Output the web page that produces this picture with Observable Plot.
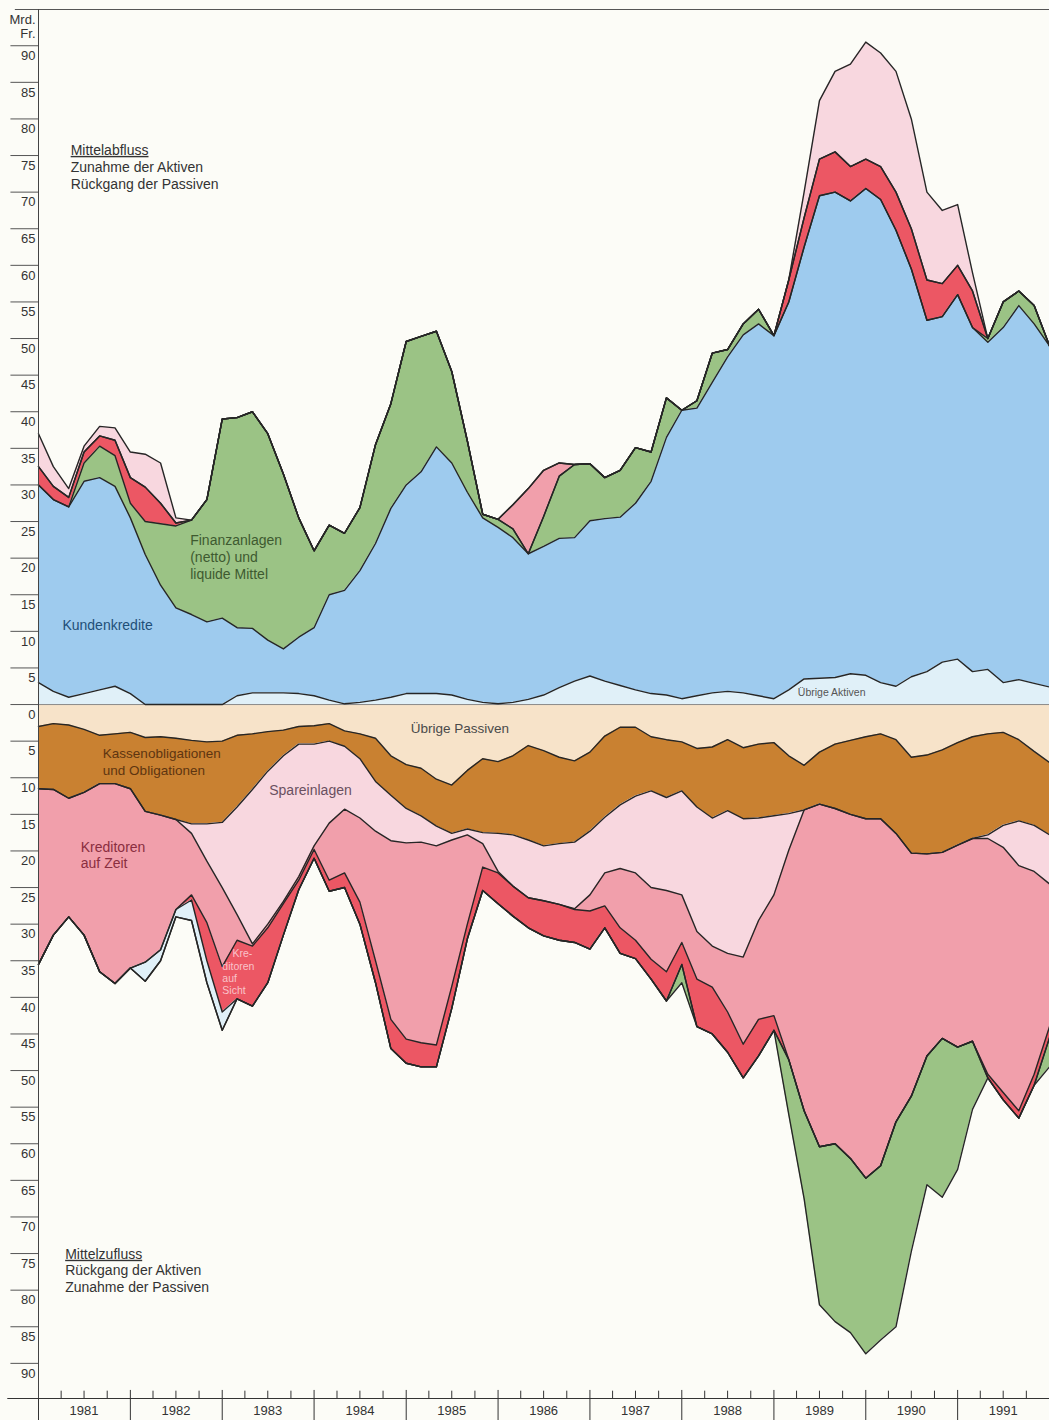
<!DOCTYPE html>
<html><head><meta charset="utf-8">
<script src="https://cdn.jsdelivr.net/npm/d3@7"></script>
<script src="https://cdn.jsdelivr.net/npm/@observablehq/plot@0.6"></script>
<style>
html,body{margin:0;padding:0;background:#fcfcf7;}
#chart{width:1049px;height:1420px;overflow:hidden;}
</style></head><body><div id="chart"></div>
<script>
// Zeitpunkte (zweimonatlich)
const dates = ["1981-01","1981-03","1981-05","1981-07","1981-09","1981-11",
"1982-01","1982-03","1982-05","1982-07","1982-09","1982-11",
"1983-01","1983-03","1983-05","1983-07","1983-09","1983-11",
"1984-01","1984-03","1984-05","1984-07","1984-09","1984-11",
"1985-01","1985-03","1985-05","1985-07","1985-09","1985-11",
"1986-01","1986-03","1986-05","1986-07","1986-09","1986-11",
"1987-01","1987-03","1987-05","1987-07","1987-09","1987-11",
"1988-01","1988-03","1988-05","1988-07","1988-09","1988-11",
"1989-01","1989-03","1989-05","1989-07","1989-09","1989-11",
"1990-01","1990-03","1990-05","1990-07","1990-09","1990-11",
"1991-01","1991-03","1991-05","1991-07","1991-09","1991-11","1992-01"];

// Mrd. Fr.; positiv = Mittelabfluss, negativ = Mittelzufluss
const uebrigeAktiven = [3.0,1.8,1.0,1.5,2.0,2.5,1.5,-2.6,-1.5,-1.0,-2.8,-3.0,-2.5,1.2,1.6,1.6,1.6,1.5,1.2,0.6,0.1,0.3,0.6,1.0,1.5,1.5,1.5,1.3,0.7,0.3,0.1,0.3,0.7,1.3,2.3,3.2,3.9,3.2,2.6,2.0,1.5,1.3,0.8,1.2,1.6,1.8,1.6,1.2,0.8,2.0,3.5,3.6,3.7,4.2,4.0,3.0,2.5,3.8,4.5,5.8,6.2,4.5,4.8,3.0,3.4,2.9,2.4];
const kundenkredite = [27.0,26.2,26.0,29.0,29.0,27.3,24.0,20.5,16.3,13.2,12.3,11.3,11.8,9.3,8.8,7.2,6.0,7.7,9.3,14.4,15.5,18.0,21.4,25.8,28.5,30.3,33.7,31.7,28.3,25.2,24.1,22.5,19.9,20.3,20.4,19.6,21.2,22.2,23.0,25.5,29.0,35.2,39.4,39.3,42.4,45.7,48.9,50.8,49.6,53.0,59.0,65.9,66.3,64.6,66.5,66.0,62.3,55.7,48.0,47.2,49.8,47.0,44.7,48.5,51.1,49.1,46.6];
const finanzanlagen = [0,0,0,2.5,4.3,4.2,2.0,4.5,8.4,11.2,12.9,16.7,27.2,28.7,29.6,28.2,23.9,16.3,10.5,9.5,7.8,8.6,13.5,14.3,19.6,18.5,15.8,12.5,7.0,0.5,1.1,1.2,0,4.1,8.5,10.0,7.8,5.6,6.4,7.6,4.0,5.4,-2.5,1.0,4.0,1.0,1.5,2.0,0,-7.5,-12.0,-21.6,-24.3,-23.8,-24.0,-23.8,-28.0,-21.2,-17.6,-21.7,-16.7,-9.3,0.5,3.5,2.0,2.5,-4.0];
const kreditorenSicht = [2.5,1.8,1.3,1.5,1.4,2.1,3.5,4.7,2.8,0.4,-0.7,-5.2,-6.2,-8.0,-8.2,-7.5,-4.3,-1.3,-1.2,-1.5,-2.0,-3.0,-3.0,-4.0,-3.3,-3.3,-3.0,-3.0,-2.0,-3.2,-4.2,-4.1,-4.1,-4.8,-4.9,-4.5,-5.2,-3.0,-3.5,-2.5,-2.7,-4.0,-3.0,-6.5,-6.4,-5.5,-4.6,-5.0,-2.0,3.0,4.0,5.0,5.5,4.7,4.0,4.5,5.2,5.5,5.5,4.5,4.0,5.0,-0.5,-1.0,-1.0,-1.5,-1.5];
const kreditorenZeit = [-24.0,-19.9,-16.2,-19.5,-25.7,-27.3,-24.5,-20.6,-18.4,-12.3,-8.4,-8.4,-10.8,-3.5,-0.3,-0.5,-0.3,-0.5,-0.5,-7.8,-8.7,-11.5,-17.7,-24.4,-26.8,-27.4,-27.2,-20.0,-12.2,-3.2,-0.2,3.3,8.9,6.3,1.8,-0.1,-2.2,-4.5,-8.1,-9.2,-9.8,-11.1,-6.5,-6.5,-5.6,-8.0,-11.9,-13.5,-16.5,-28.6,-41.1,-46.8,-45.8,-47.0,-49.1,-47.4,-39.4,-33.2,-27.6,-25.4,-27.6,-27.7,-32.2,-33.5,-33.5,-27.7,-19.5];
const spareinlagen = [4.5,2.7,1.2,0.8,1.3,1.7,3.5,4.5,5.5,0.7,-1.3,-5.1,-8.9,-14.7,-21.1,-20.9,-19.9,-18.1,-13.9,-11.2,-8.6,-8.1,-6.8,-6.2,-4.7,-3.6,-2.7,-0.9,-0.8,-1.5,-5.2,-7.0,-7.9,-7.5,-8.3,-9.1,-8.7,-7.6,-8.7,-10.5,-13.2,-12.7,-14.2,-17.0,-17.5,-19.5,-18.9,-14.0,-10.8,-5.0,3.5,8.0,11.0,14.0,16.0,15.5,16.5,15.0,12.0,10.0,8.3,2.5,-0.5,-3.0,-6.1,-6.3,-6.7];
const kassenobligationen = [-8.5,-9.0,-10.0,-8.6,-6.6,-6.8,-7.7,-10.1,-10.7,-11.1,-11.4,-11.2,-11.1,-9.8,-7.6,-5.4,-3.5,-2.4,-2.5,-2.4,-2.1,-3.4,-5.9,-5.4,-6.0,-6.5,-6.4,-6.6,-8.0,-10.1,-9.8,-10.8,-12.9,-13.0,-11.8,-11.1,-10.8,-11.1,-10.6,-9.4,-7.4,-7.9,-6.7,-8.0,-9.7,-9.7,-9.7,-10.1,-10.0,-7.9,-6.1,-7.1,-8.8,-10.1,-11.2,-11.6,-12.8,-13.1,-13.5,-14.0,-14.0,-13.9,-13.8,-12.7,-11.1,-10.1,-9.9];
const uebrigePassiven = [-3.0,-2.6,-2.8,-3.4,-4.2,-4.0,-3.8,-4.5,-4.4,-4.6,-4.9,-5.1,-5.0,-4.2,-4.0,-3.7,-3.5,-3.0,-2.9,-2.6,-3.6,-4.0,-4.6,-7.0,-8.2,-8.7,-10.2,-11.0,-9.0,-7.4,-7.8,-7.0,-5.6,-6.3,-7.2,-7.7,-6.5,-4.3,-3.1,-3.1,-4.4,-4.8,-5.1,-6.0,-5.8,-4.8,-5.9,-5.4,-5.2,-7.0,-8.3,-6.5,-5.4,-4.9,-4.4,-4.0,-4.8,-7.2,-6.9,-6.2,-5.2,-4.4,-4.0,-3.8,-4.8,-6.4,-7.9];

const years = [1981,1982,1983,1984,1985,1986,1987,1988,1989,1990,1991];
const yTicks = [-90,-85,-80,-75,-70,-65,-60,-55,-50,-45,-40,-35,-30,-25,-20,-15,-10,-5,0,5,10,15,20,25,30,35,40,45,50,55,60,65,70,75,80,85,90];

const series = {ua: uebrigeAktiven, kk: kundenkredite, fin: finanzanlagen, kas: kreditorenSicht,
  kaz: kreditorenZeit, spar: spareinlagen, kasse: kassenobligationen, up: uebrigePassiven};
const colors = {ua:"#e0f0f8", kk:"#9ecbee", fin:"#9bc385", kas:"#ec5764", kaz:"#f19fab",
  spar:"#f8d7df", kasse:"#c98131", up:"#f7e3c9"};
const topOrder = ["ua","kk","fin","kas","kaz","spar"];
const bottomOrder = ["up","kasse","spar","kaz","kas","ua","fin"];

const parse = d3.utcParse("%Y-%m");
const D = dates.map(parse);
const posRows = [], negRows = [];
for (const k of topOrder) series[k].forEach((v,i) => posRows.push({date: D[i], key: k, v: Math.max(v, 0)}));
for (const k of bottomOrder) series[k].forEach((v,i) => negRows.push({date: D[i], key: k, v: v < 0 ? v : -1e-6}));

const yr = f => new Date(Date.UTC(1981,0,1) + (f - 1981) * 365.25 * 864e5);
const yMin = -94.8, yMax = 94.95;
const x0 = new Date(Date.UTC(1981,0,1));
const quarters = years.flatMap(y => [3,6,9].map(m => new Date(Date.UTC(y, m, 1))));
const yearStarts = years.map(y => new Date(Date.UTC(y, 0, 1)));
const yearMids = years.map(y => new Date(Date.UTC(y, 6, 1)));

const labels = [
  {x: 1981.35, y: 75.7, text: "Mittelabfluss", c: "#333", s: 14},
  {x: 1981.35, y: 73.4, text: "Zunahme der Aktiven", c: "#333", s: 14},
  {x: 1981.35, y: 71.1, text: "Rückgang der Passiven", c: "#333", s: 14},
  {x: 1981.29, y: -75.1, text: "Mittelzufluss", c: "#333", s: 14},
  {x: 1981.29, y: -77.3, text: "Rückgang der Aktiven", c: "#333", s: 14},
  {x: 1981.29, y: -79.6, text: "Zunahme der Passiven", c: "#333", s: 14},
  {x: 1982.65, y: 22.4, text: "Finanzanlagen", c: "#3e5a30", s: 14},
  {x: 1982.65, y: 20.1, text: "(netto) und", c: "#3e5a30", s: 14},
  {x: 1982.65, y: 17.8, text: "liquide Mittel", c: "#3e5a30", s: 14},
  {x: 1981.26, y: 10.8, text: "Kundenkredite", c: "#1f4f78", s: 14},
  {x: 1989.26, y: 1.6, text: "Übrige Aktiven", c: "#555", s: 10.5},
  {x: 1985.05, y: -3.3, text: "Übrige Passiven", c: "#4a4a4a", s: 13.5},
  {x: 1981.70, y: -6.7, text: "Kassenobligationen", c: "#5e3510", s: 13.5},
  {x: 1981.70, y: -9.0, text: "und Obligationen", c: "#5e3510", s: 13.5},
  {x: 1983.51, y: -11.7, text: "Spareinlagen", c: "#6a5060", s: 14},
  {x: 1981.46, y: -19.5, text: "Kreditoren", c: "#8a2e40", s: 14},
  {x: 1981.46, y: -21.7, text: "auf Zeit", c: "#8a2e40", s: 14},
  {x: 1983.11, y: -34.0, text: "Kre-", c: "#f9c3ca", s: 10.5},
  {x: 1983.00, y: -35.8, text: "ditoren", c: "#f9c3ca", s: 10.5},
  {x: 1983.00, y: -37.4, text: "auf", c: "#f9c3ca", s: 10.5},
  {x: 1983.00, y: -39.1, text: "Sicht", c: "#f9c3ca", s: 10.5}
];

const font = "'Liberation Sans', Arial, Helvetica, sans-serif";
const chart = Plot.plot({
  width: 1049, height: 1420,
  marginLeft: 38, marginRight: 0, marginTop: 9, marginBottom: 22,
  style: {fontFamily: font, background: "#fcfcf7", fontSize: "13px", color: "#333"},
  x: {type: "utc", domain: [x0, new Date(Date.UTC(1992,0,1))], axis: null},
  y: {domain: [yMin, yMax], axis: null},
  color: {type: "identity"},
  marks: [
    Plot.areaY(posRows, {x: "date", y: "v", z: "key", fill: d => colors[d.key], order: topOrder}),
    Plot.areaY(negRows, {x: "date", y: "v", z: "key", fill: d => colors[d.key], order: bottomOrder}),
    Plot.ruleY([0], {stroke: "#8a8a8a", strokeWidth: 1}),
    Plot.lineY(posRows, Plot.stackY2({x: "date", y: "v", z: "key", order: topOrder, stroke: "#262626", strokeWidth: 1.4})),
    Plot.lineY(negRows, Plot.stackY2({x: "date", y: "v", z: "key", order: bottomOrder, stroke: "#262626", strokeWidth: 1.4})),
    // frame
    Plot.ruleY([yMax], {x1: new Date(Date.UTC(1980,9,1)), x2: new Date(Date.UTC(1992,0,1)), stroke: "#555"}),
    Plot.ruleY([yMin], {x1: new Date(Date.UTC(1980,8,1)), x2: new Date(Date.UTC(1992,0,1)), stroke: "#333"}),
    Plot.ruleX(quarters, {x: d => d, y1: yMin, y2: yMin + 1.0, stroke: "#333"}),
    Plot.ruleX(yearStarts, {x: d => d, y1: yMin + 1.1, y2: yMin - 3.2, stroke: "#333"}),
    Plot.ruleX([x0], {y1: yMin, y2: yMax, stroke: "#444"}),
    // y ticks: line above, label just below
    Plot.ruleY(yTicks, {y: d => d, x1: yr(1980.70), x2: x0, stroke: "#555"}),
    Plot.text(yTicks, {x: x0, y: d => d, dx: -3, dy: 10, text: d => String(Math.abs(d)), textAnchor: "end", fontSize: 13, fill: "#333"}),
    // year labels
    Plot.text(yearMids, {x: d => d, y: yMin, dy: 12, text: d => String(d.getUTCFullYear()), fontSize: 13, fill: "#333"}),
    Plot.text(["Mrd."], {x: x0, y: yMax, dx: -3, dy: 10, text: d => d, textAnchor: "end", fontSize: 13, fill: "#333"}),
    Plot.text(["Fr."], {x: x0, y: yMax, dx: -3, dy: 24, text: d => d, textAnchor: "end", fontSize: 13, fill: "#333"}),
    Plot.text(labels, {x: d => yr(d.x), y: "y", text: "text", fill: "c", fontSize: d => d.s, textAnchor: "start"})
  ]
});
document.getElementById("chart").appendChild(chart);
d3.select(chart).selectAll("text").each(function() {
  const t = this.textContent;
  if (t === "Mittelabfluss" || t === "Mittelzufluss") this.style.textDecoration = "underline";
});
</script></body></html>
